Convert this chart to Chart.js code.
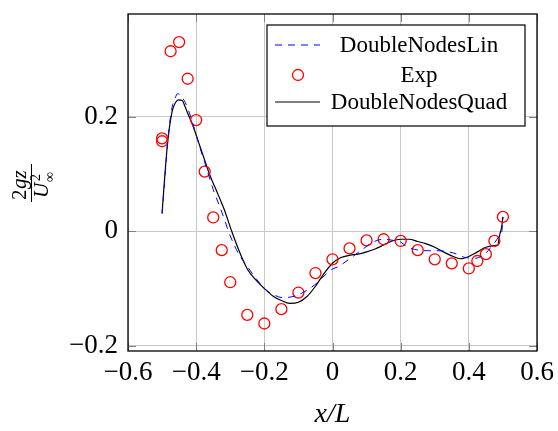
<!DOCTYPE html>
<html>
<head>
<meta charset="utf-8">
<script src="https://cdn.jsdelivr.net/npm/chart.js@4"></script>
<style>
html,body{margin:0;padding:0;background:#fff;}
</style>
</head>
<body>
<canvas id="chart" width="558" height="431"></canvas>
<script>
// DoubleNodesLin (blue dashed)
const linX = [-0.5,-0.492,-0.483,-0.472,-0.462,-0.454,-0.445,-0.435,-0.425,-0.41,-0.39,-0.375,-0.35,-0.327,-0.3,-0.275,-0.253,-0.225,-0.2,-0.175,-0.145,-0.116,-0.09,-0.067,-0.045,-0.028,0,0.016,0.046,0.085,0.119,0.149,0.178,0.2,0.218,0.252,0.28,0.306,0.355,0.39,0.42,0.448,0.465,0.477,0.49,0.497,0.5];
const linY = [0.03,0.09,0.16,0.212,0.232,0.24,0.236,0.228,0.215,0.188,0.148,0.12,0.073,0.037,-0.008,-0.04,-0.059,-0.082,-0.1,-0.11,-0.116,-0.114,-0.108,-0.1,-0.09,-0.08,-0.066,-0.062,-0.05,-0.033,-0.019,-0.014,-0.016,-0.019,-0.027,-0.033,-0.034,-0.034,-0.038,-0.046,-0.047,-0.039,-0.028,-0.019,-0.008,0,0.025];

// Exp (red circles)
const expX = [-0.5,-0.5,-0.475,-0.45,-0.425,-0.4,-0.375,-0.35,-0.325,-0.3,-0.25,-0.2,-0.15,-0.1,-0.05,0,0.05,0.1,0.15,0.2,0.25,0.3,0.35,0.4,0.425,0.45,0.475,0.5];
const expY = [0.162,0.157,0.314,0.33,0.266,0.194,0.104,0.024,-0.033,-0.089,-0.146,-0.161,-0.136,-0.107,-0.073,-0.049,-0.03,-0.016,-0.014,-0.017,-0.033,-0.049,-0.056,-0.065,-0.052,-0.04,-0.017,0.025];

// DoubleNodesQuad (black solid)
const quadX = [-0.5,-0.493,-0.484,-0.471,-0.46,-0.452,-0.441,-0.433,-0.425,-0.41,-0.39,-0.375,-0.36,-0.345,-0.33,-0.317,-0.297,-0.273,-0.25,-0.225,-0.2,-0.175,-0.15,-0.125,-0.1,-0.075,-0.05,-0.025,0,0.025,0.05,0.075,0.1,0.125,0.15,0.175,0.2,0.225,0.25,0.275,0.3,0.325,0.35,0.375,0.4,0.425,0.45,0.475,0.485,0.49,0.497,0.5];
const quadY = [0.032,0.089,0.153,0.208,0.225,0.229,0.228,0.218,0.206,0.185,0.15,0.124,0.098,0.077,0.056,0.037,0.002,-0.036,-0.066,-0.085,-0.1,-0.113,-0.121,-0.126,-0.124,-0.114,-0.096,-0.074,-0.056,-0.046,-0.042,-0.04,-0.036,-0.031,-0.024,-0.017,-0.014,-0.014,-0.018,-0.022,-0.028,-0.036,-0.043,-0.048,-0.044,-0.036,-0.028,-0.025,-0.024,-0.008,0.01,0.025];

const xTicks = [-0.6,-0.4,-0.2,0,0.2,0.4,0.6];
const yTicks = [-0.2,0,0.2];

const pts = (xs, ys) => xs.map((v, i) => ({x: v, y: ys[i]}));
const fmt = v => v === 0 ? '0' : (v < 0 ? '\u2212' : '') + Math.abs(v).toFixed(1);
const serif = '"Liberation Serif", "DejaVu Serif", serif';

const decor = {
  id: 'decor',
  afterDatasetsDraw(chart) {
    const {ctx, chartArea: a, scales: {x, y}} = chart;
    const tl = 8;
    ctx.save();
    // inward tick marks on all four sides
    ctx.strokeStyle = '#808080';
    ctx.lineWidth = 1;
    ctx.beginPath();
    xTicks.forEach(v => {
      const px = Math.round(x.getPixelForValue(v)) + 0.5;
      ctx.moveTo(px, a.bottom); ctx.lineTo(px, a.bottom - tl);
      ctx.moveTo(px, a.top); ctx.lineTo(px, a.top + tl);
    });
    yTicks.forEach(v => {
      const py = Math.round(y.getPixelForValue(v)) + 0.5;
      ctx.moveTo(a.left, py); ctx.lineTo(a.left + tl, py);
      ctx.moveTo(a.right, py); ctx.lineTo(a.right - tl, py);
    });
    ctx.stroke();
    // frame
    ctx.strokeStyle = '#000';
    ctx.lineWidth = 1.3;
    ctx.strokeRect(a.left, a.top, a.right - a.left, a.bottom - a.top);

    // legend
    const bx = 267, by = 25, bw = 258, bh = 101;
    ctx.fillStyle = '#fff';
    ctx.fillRect(bx, by, bw, bh);
    ctx.lineWidth = 1.2;
    ctx.strokeRect(bx, by, bw, bh);
    const rows = [45, 75, 102];
    ctx.font = '23px ' + serif;
    ctx.textAlign = 'center';
    ctx.textBaseline = 'middle';
    chart.data.datasets.forEach((ds, i) => {
      const ry = rows[i];
      ctx.save();
      ctx.strokeStyle = ds.borderColor;
      ctx.lineWidth = ds.borderWidth;
      if (ds.showLine) {
        ctx.setLineDash(ds.borderDash || []);
        ctx.beginPath();
        ctx.moveTo(275, ry); ctx.lineTo(320, ry);
        ctx.stroke();
      } else {
        ctx.beginPath();
        ctx.arc(298, ry, ds.pointRadius, 0, Math.PI * 2);
        ctx.stroke();
      }
      ctx.restore();
      ctx.fillStyle = '#000';
      ctx.fillText(ds.label, 419, ry + 1);
    });

    // x axis title
    ctx.fillStyle = '#000';
    ctx.font = 'italic 28px ' + serif;
    ctx.textAlign = 'center';
    ctx.textBaseline = 'alphabetic';
    ctx.fillText('x/L', (a.left + a.right) / 2, 422);

    // y axis title: 2gz / U∞²
    ctx.translate(31, 183);
    ctx.rotate(-Math.PI / 2);
    ctx.lineWidth = 1;
    ctx.beginPath();
    ctx.moveTo(-19, 0.5); ctx.lineTo(19, 0.5);
    ctx.stroke();
    ctx.textAlign = 'left';
    ctx.font = '21px ' + serif;
    ctx.fillText('2', -17, -5);
    ctx.font = 'italic 21px ' + serif;
    ctx.fillText('gz', -6, -5);
    ctx.fillText('U', -15, 17);
    ctx.font = '14px ' + serif;
    ctx.fillText('2', 2, 9);
    ctx.fillText('\u221E', 1, 23);
    ctx.restore();
  }
};

const noPad = s => { s.paddingTop = 0; s.paddingBottom = 0; s.paddingLeft = 0; s.paddingRight = 0; };

new Chart(document.getElementById('chart'), {
  type: 'scatter',
  data: {
    datasets: [{
      label: 'DoubleNodesLin',
      data: pts(linX, linY),
      showLine: true,
      borderColor: '#0000ff',
      borderWidth: 1,
      borderDash: [7, 6],
      pointRadius: 0,
      cubicInterpolationMode: 'monotone'
    }, {
      label: 'Exp',
      data: pts(expX, expY),
      showLine: false,
      borderColor: '#ff0000',
      backgroundColor: 'rgba(0,0,0,0)',
      borderWidth: 1.3,
      pointRadius: 5.5,
      pointStyle: 'circle'
    }, {
      label: 'DoubleNodesQuad',
      data: pts(quadX, quadY),
      showLine: true,
      borderColor: '#000000',
      borderWidth: 1.2,
      pointRadius: 0,
      cubicInterpolationMode: 'monotone'
    }]
  },
  options: {
    responsive: false,
    animation: false,
    events: [],
    layout: {padding: {left: 0, right: 21, top: 14, bottom: 0}},
    plugins: {legend: {display: false}, tooltip: {enabled: false}},
    scales: {
      x: {
        type: 'linear', min: -0.6, max: 0.6,
        afterBuildTicks: s => { s.ticks = xTicks.map(v => ({value: v})); },
        afterFit: s => { s.height = 80; noPad(s); },
        grid: {color: '#c8c8c8', lineWidth: 1, drawTicks: false},
        border: {display: false},
        ticks: {color: '#000', padding: 6, maxRotation: 0, autoSkip: false,
          font: {family: serif, size: 27}, callback: v => fmt(v)}
      },
      y: {
        type: 'linear', min: -0.209, max: 0.379,
        afterBuildTicks: s => { s.ticks = yTicks.map(v => ({value: v})); },
        afterFit: s => { s.width = 128; noPad(s); },
        grid: {color: '#c8c8c8', lineWidth: 1, drawTicks: false},
        border: {display: false},
        ticks: {color: '#000', padding: 10, autoSkip: false,
          font: {family: serif, size: 27}, callback: v => fmt(v)}
      }
    }
  },
  plugins: [decor]
});
</script>
</body>
</html>
